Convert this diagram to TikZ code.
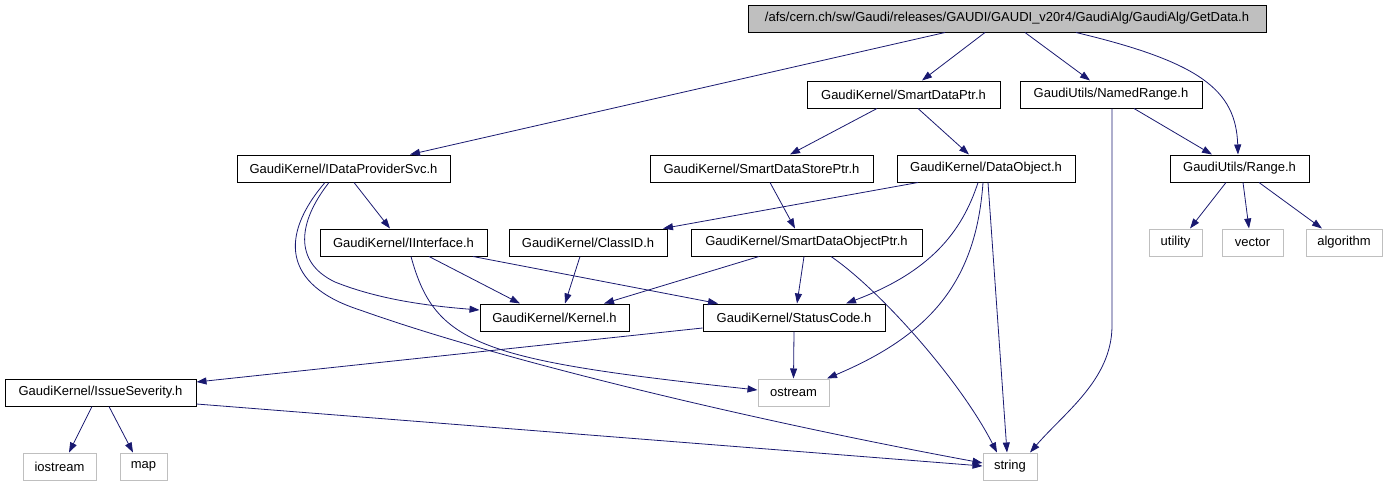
\documentclass[tikz,border=0pt]{standalone}
\usepackage{fontspec}
\setmainfont{Liberation Sans}
\usetikzlibrary{arrows.meta}
\definecolor{edgeblue}{HTML}{191970}
\definecolor{greybox}{HTML}{BFBFBF}
\definecolor{rootfill}{HTML}{BFBFBF}
\tikzset{
  box/.style={draw=black, line width=1pt, rectangle, inner sep=0pt, minimum height=27pt, font=\fontsize{13}{15}\selectfont},
  sysbox/.style={box, draw=greybox},
  edge/.style={draw=edgeblue, line width=0.8pt, -{Triangle[length=10pt,width=7pt]}},
}
\begin{document}
\begin{tikzpicture}[x=1pt,y=-1pt]
\useasboundingbox (0,0) rectangle (1386,485);
% nodes
\node[box, fill=rootfill, minimum width=518pt] (getdata) at (1007,18.5) {/afs/cern.ch/sw/Gaudi/releases/GAUDI/GAUDI\_v20r4/GaudiAlg/GaudiAlg/GetData.h};
\node[box, minimum width=193pt] (sdp) at (903.5,94.5) {GaudiKernel/SmartDataPtr.h};
\node[box, minimum width=182pt] (nr) at (1111,94.5) {GaudiUtils/NamedRange.h};
\node[box, minimum width=213pt] (idps) at (343.5,168.5) {GaudiKernel/IDataProviderSvc.h};
\node[box, minimum width=223pt] (sdsp) at (761.5,168.5) {GaudiKernel/SmartDataStorePtr.h};
\node[box, minimum width=178pt] (dobj) at (986,168.5) {GaudiKernel/DataObject.h};
\node[box, minimum width=139pt] (range) at (1239.5,168.5) {GaudiUtils/Range.h};
\node[box, minimum width=167pt] (iint) at (403.5,242.5) {GaudiKernel/IInterface.h};
\node[box, minimum width=158pt] (classid) at (588,242.5) {GaudiKernel/ClassID.h};
\node[box, minimum width=231pt] (sdop) at (806.5,242.5) {GaudiKernel/SmartDataObjectPtr.h};
\node[sysbox, minimum width=53pt] (utility) at (1175.5,242.5) {utility};
\node[sysbox, minimum width=61pt] (vector) at (1252.5,242.5) {vector};
\node[sysbox, minimum width=76pt] (algorithm) at (1344,242.5) {algorithm};
\node[box, minimum width=149pt] (kernel) at (554.5,317.5) {GaudiKernel/Kernel.h};
\node[box, minimum width=182pt] (sc) at (794,317.5) {GaudiKernel/StatusCode.h};
\node[box, minimum width=191pt] (issue) at (100.5,392.5) {GaudiKernel/IssueSeverity.h};
\node[sysbox, minimum width=71pt] (ostream) at (793.5,392.5) {ostream};
\node[sysbox, minimum width=73pt] (iostream) at (59.5,466.5) {iostream};
\node[sysbox, minimum width=47pt] (map) at (143.5,466.5) {map};
\node[sysbox, minimum width=54pt] (string) at (1010,466.5) {string};
% edges
\draw[edge] (945,0 |- getdata.south) -- (410,0 |- idps.north);
\draw[edge] (985,0 |- getdata.south) -- (922,0 |- sdp.north);
\draw[edge] (1025,0 |- getdata.south) -- (1090,0 |- nr.north);
\draw[edge] (1076,0 |- getdata.south) .. controls (1200,62) and (1236,90) .. (1238,0 |- range.north);
\draw[edge] (877,0 |- sdp.south) -- (790,0 |- sdsp.north);
\draw[edge] (918,0 |- sdp.south) -- (969,0 |- dobj.north);
\draw[edge] (1134,0 |- nr.south) -- (1212,0 |- range.north);
\draw[edge] (1112,0 |- nr.south) -- (1112,327) .. controls (1111,380) and (1065,412) .. (1030,0 |- string.north);
\draw[edge] (1226,0 |- range.south) -- (1190,0 |- utility.north);
\draw[edge] (1243,0 |- range.south) -- (1249,0 |- vector.north);
\draw[edge] (1259,0 |- range.south) -- (1322,0 |- algorithm.north);
\draw[edge] (354,0 |- idps.south) -- (390,0 |- iint.north);
\draw[edge] (329,0 |- idps.south) .. controls (298,222) and (293,262) .. (335,282) .. controls (380,300) and (430,306) .. (kernel.west |- 0,310);
\draw[edge] (325,0 |- idps.south) .. controls (280,235) and (282,285) .. (360,310) .. controls (500,360) and (750,420) .. (string.west |- 0,463);
\draw[edge] (770,0 |- sdsp.south) -- (795,0 |- sdop.north);
\draw[edge] (918,0 |- dobj.south) -- (663,0 |- classid.north);
\draw[edge] (978,0 |- dobj.south) .. controls (962,232) and (930,272) .. (846,0 |- sc.north);
\draw[edge] (983,0 |- dobj.south) .. controls (976,282) and (930,335) .. (827,0 |- ostream.north);
\draw[edge] (988,0 |- dobj.south) -- (1007,0 |- string.north);
\draw[edge] (429,0 |- iint.south) -- (520,0 |- kernel.north);
\draw[edge] (473,0 |- iint.south) -- (718,0 |- sc.north);
\draw[edge] (411,0 |- iint.south) .. controls (435,345) and (480,360) .. (ostream.west |- 0,390);
\draw[edge] (580,0 |- classid.south) -- (565,0 |- kernel.north);
\draw[edge] (759,0 |- sdop.south) -- (604,0 |- kernel.north);
\draw[edge] (804,0 |- sdop.south) -- (797,0 |- sc.north);
\draw[edge] (831,0 |- sdop.south) .. controls (880,290) and (960,380) .. (997,0 |- string.north);
\draw[edge] (sc.west |- 0,328) -- (issue.east |- 0,382);
\draw[edge] (sc.south) -- (ostream.north);
\draw[edge] (92,0 |- issue.south) -- (69,0 |- iostream.north);
\draw[edge] (109,0 |- issue.south) -- (133,0 |- map.north);
\draw[edge] (issue.east |- 0,404) -- (string.west |- 0,466);
\end{tikzpicture}
\end{document}
